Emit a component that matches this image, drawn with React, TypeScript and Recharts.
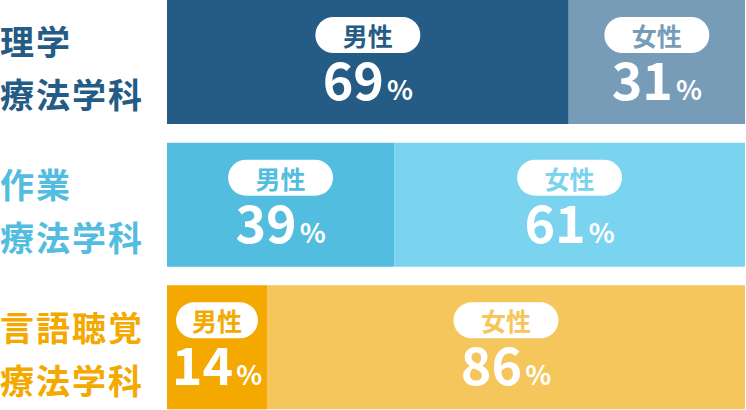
import { BarChart, Bar, XAxis, YAxis, Cell, LabelList } from 'recharts';

// departments, label lines as shown on the left
const departments = ['理学療法学科', '作業療法学科', '言語聴覚療法学科'];
const deptLines = [
  ['理学', '療法学科'],
  ['作業', '療法学科'],
  ['言語聴覚', '療法学科'],
];

// printed percentages
const malePct = [69, 39, 14];
const femalePct = [31, 61, 86];

// segment lengths as drawn (the small 14% segment is drawn wider in the original)
const maleBar = [69.5, 39.3, 17.3];
const femaleBar = [30.5, 60.7, 82.7];

const MALE_COLORS = ['#245c85', '#52bddf', '#f3a900'];
const FEMALE_COLORS = ['#779cb8', '#7ad3ef', '#f4c65c'];
const LABEL_COLORS = ['#245c85', '#52bddf', '#f3a900'];

const JP = '"Noto Sans CJK JP", "Noto Sans", sans-serif';

const chartData = departments.map((name, i) => ({
  name,
  male: maleBar[i],
  female: femaleBar[i],
  malePct: malePct[i],
  femalePct: femalePct[i],
}));

const DeptTick = (props: any) => {
  const { y, index } = props;
  const lines = deptLines[index] ?? [];
  return (
    <text
      x={0}
      y={y}
      fill={LABEL_COLORS[index]}
      fontFamily={JP}
      fontWeight={700}
      fontSize={34}
      letterSpacing={2}
      textAnchor="start"
      dominantBaseline="central"
    >
      <tspan x={0} y={y - 22}>{lines[0]}</tspan>
      <tspan x={0} y={y + 31}>{lines[1]}</tspan>
    </text>
  );
};

const makeLabel = (title: string, pcts: number[], colors: string[]) => (props: any) => {
  const { x, y, width, index } = props;
  const cx = x + width / 2;
  const pillW = Math.min(105, width - 18);
  const pct = pcts[index];
  return (
    <g>
      <rect x={cx - pillW / 2} y={y + 17} width={pillW} height={36} rx={18} fill="#fff" />
      <text
        x={cx}
        y={y + 35}
        fill={colors[index]}
        fontFamily={JP}
        fontWeight={700}
        fontSize={25}
        textAnchor="middle"
        dominantBaseline="central"
      >
        {title}
      </text>
      <text x={cx} y={y + 100} fill="#fff" fontFamily={JP} fontWeight={700} textAnchor="middle">
        <tspan fontSize={52}>{pct}</tspan>
        <tspan fontSize={27} dx={3}>%</tspan>
      </text>
    </g>
  );
};

export default function App() {
  return (
    <div style={{ position: 'absolute', left: 0, top: 0, width: 746, height: 410, overflow: 'hidden', background: '#fff' }}>
      <div style={{ position: 'absolute', left: 0, top: -9 }}>
        <BarChart
          width={746}
          height={428}
          data={chartData}
          layout="vertical"
          margin={{ top: 0, right: 1, bottom: 0, left: 0 }}
          barSize={124}
        >
          <XAxis type="number" domain={[0, 100]} hide />
          <YAxis
            type="category"
            dataKey="name"
            width={167}
            axisLine={false}
            tickLine={false}
            tick={<DeptTick />}
          />
          <Bar dataKey="male" stackId="a" isAnimationActive={false}>
            {chartData.map((_, i) => (
              <Cell key={i} fill={MALE_COLORS[i]} />
            ))}
            <LabelList dataKey="male" content={makeLabel('男性', malePct, MALE_COLORS)} />
          </Bar>
          <Bar dataKey="female" stackId="a" isAnimationActive={false}>
            {chartData.map((_, i) => (
              <Cell key={i} fill={FEMALE_COLORS[i]} />
            ))}
            <LabelList dataKey="female" content={makeLabel('女性', femalePct, FEMALE_COLORS)} />
          </Bar>
        </BarChart>
      </div>
    </div>
  );
}
